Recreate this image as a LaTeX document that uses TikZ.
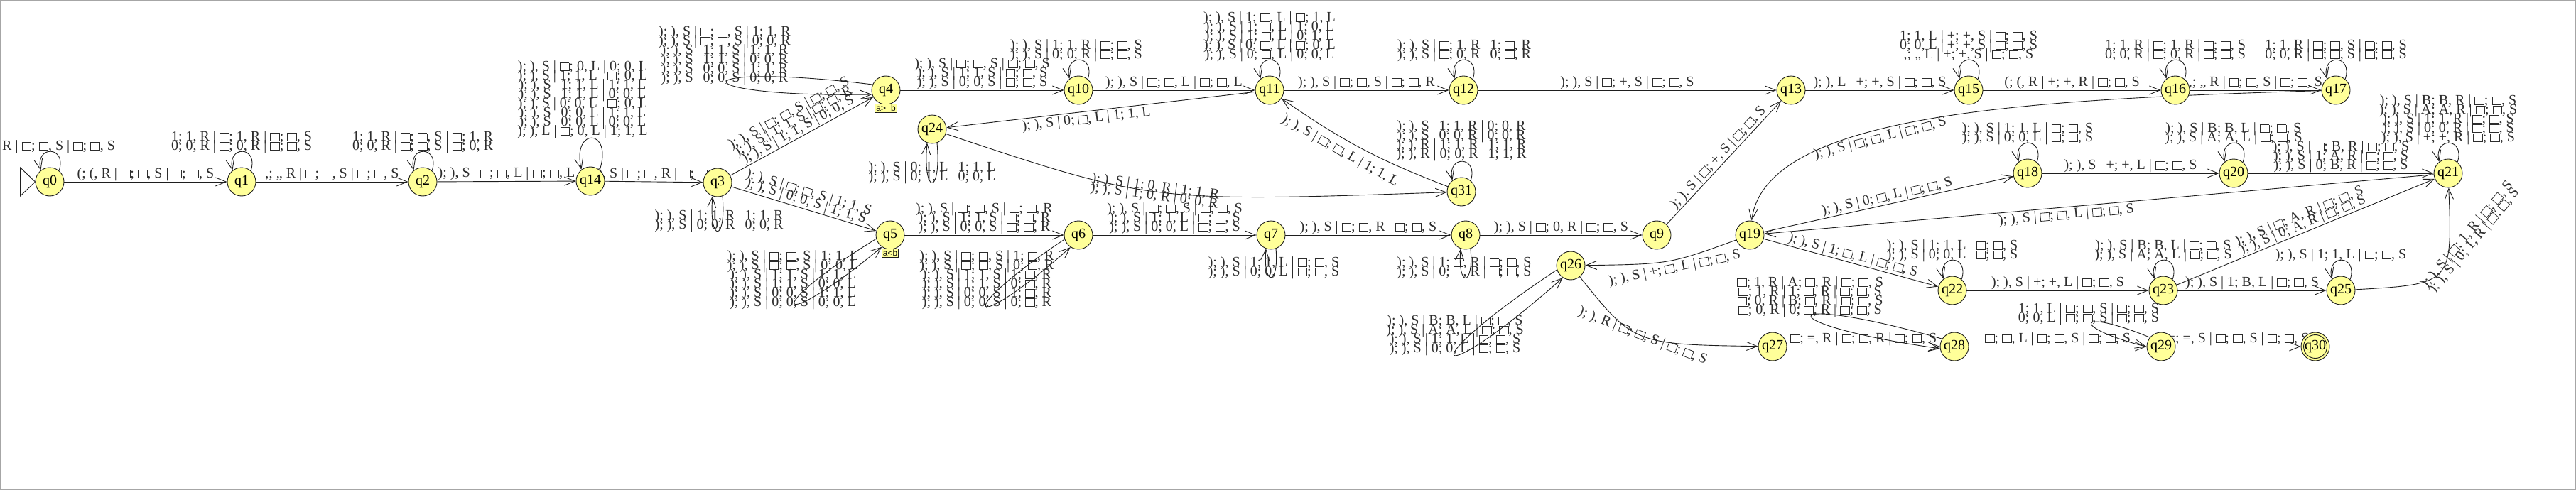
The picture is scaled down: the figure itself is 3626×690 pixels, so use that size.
\documentclass[tikz,border=0pt]{standalone}
\usepackage{fontspec}
\setmainfont{Liberation Serif}
\newfontfamily\tagfont{Liberation Sans}
\usetikzlibrary{arrows.meta}
\pgfdeclarelayer{bg}
\pgfsetlayers{bg,main}
\definecolor{stfill}{RGB}{255,255,153}
\definecolor{labc}{RGB}{45,45,45}
\definecolor{edc}{RGB}{30,30,30}
\newcommand\B{{\setlength{\fboxsep}{0pt}\setlength{\fboxrule}{0.8pt}\fbox{\rule{0pt}{10.4pt}\hspace{11.9pt}}}}
\newcommand\labfont{\fontsize{20}{13}\selectfont\lineskiplimit=-100pt\lineskip=0pt}
\newcommand\toploop[2][37]{\draw[ed] (#2.50) .. controls +(72:#1) and +(103:#1) .. (#2.128);}
\newcommand\dirloop[6]{\draw[ed] (#1.#2) .. controls +(#3:#5) and +(#4:#5) .. (#1.#6);}
\tikzset{
  st/.style={circle, draw=edc, line width=0.9pt, fill=stfill, minimum size=40pt, inner sep=0pt, font=\fontsize{20}{20}\selectfont},
  ed/.style={draw=edc, line width=0.9pt, -{Straight Barb[length=15pt,width=12pt,line width=0.9pt]}},
  lab/.style={font=\labfont, text=labc, inner sep=0pt, align=center, execute at end node={\rule[-4pt]{0pt}{4pt}}},
  tagbox/.style={draw=edc, line width=0.8pt, fill=stfill, font=\tagfont\fontsize{12}{12}\selectfont, inner sep=1.5pt},
}
\begin{document}
\begin{tikzpicture}[x=1pt,y=1pt]
\useasboundingbox (0,0) rectangle (3626,-690);
% states
\node[st] (q0) at (70,-256) {q0};
\node[st] (q1) at (340,-256) {q1};
\node[st] (q2) at (595,-256) {q2};
\node[st] (q14) at (831,-255) {q14};
\node[st] (q3) at (1010,-257) {q3};
\node[st] (q4) at (1247,-127) {q4};
\node[st] (q24) at (1312,-182) {q24};
\node[st] (q10) at (1518,-127) {q10};
\node[st] (q11) at (1787,-127) {q11};
\node[st] (q12) at (2060,-127) {q12};
\node[st] (q5) at (1253,-331) {q5};
\node[st] (q6) at (1518,-331) {q6};
\node[st] (q7) at (1789,-331) {q7};
\node[st] (q8) at (2063,-331) {q8};
\node[st] (q9) at (2332,-331) {q9};
\node[st] (q31) at (2057,-270) {q31};
\node[st] (q26) at (2211,-374) {q26};
\node[st] (q13) at (2521,-127) {q13};
\node[st] (q15) at (2771,-127) {q15};
\node[st] (q16) at (3062,-127) {q16};
\node[st] (q17) at (3288,-127) {q17};
\node[st] (q18) at (2854,-244) {q18};
\node[st] (q20) at (3144,-244) {q20};
\node[st] (q21) at (3446,-244) {q21};
\node[st] (q19) at (2463,-331) {q19};
\node[st] (q22) at (2748,-409) {q22};
\node[st] (q23) at (3045,-409) {q23};
\node[st] (q25) at (3295,-409) {q25};
\node[st] (q27) at (2495,-488) {q27};
\node[st] (q28) at (2751,-488) {q28};
\node[st] (q29) at (3042,-488) {q29};
\node[st] (q30) at (3259,-488) {q30};
\draw[edc, line width=0.9pt] (q30.center) circle (16.5pt);
\node[tagbox] (tg4) at (1247,-152) {a>=b};
\node[tagbox] (tg5) at (1253,-356) {a<b};

\begin{pgfonlayer}{bg}
\draw[gray!70, line width=2pt] (0,0) rectangle (3626,-690);
\draw[edc, line width=0.9pt] (q0.west) -- ++(-21,20) -- ++(0,-40) -- cycle;
% ---- row q0 .. q3
\toploop{q0}
\node[lab, anchor=south west] (l0) at (3,-216) {R | \B; \B, S | \B; \B, S};
\draw[ed] (q0) -- node[lab, above=1pt] (e01) {(; (, R | \B; \B, S | \B; \B, S} (q1);
\toploop{q1}
\node[lab, anchor=south] (l1) at (340,-216) {1; 1, R | \B; 1, R | \B; \B, S\\0; 0, R | \B; 0, R | \B; \B, S};
\draw[ed] (q1) -- node[lab, above=1pt] (e12) {,; ,, R | \B; \B, S | \B; \B, S} (q2);
\toploop{q2}
\node[lab, anchor=south] (l2) at (595,-216) {1; 1, R | \B; \B, S | \B; 1, R\\0; 0, R | \B; \B, S | \B; 0, R};
\draw[ed] (q2) -- node[lab, above=1pt] (e214) {); ), S | \B; \B, L | \B; \B, L} (q14);
\toploop[62]{q14}
\node[lab, anchor=south] (l14) at (820,-195) {); ), S | \B; 0, L | 0; 0, L\\); ), S | 1; 1, L | \B; 0, L\\); ), S | 1; 1, L | 1; 1, L\\); ), S | 1; 1, L | 0; 0, L\\); ), S | 0; 0, L | \B; 0, L\\); ), S | 0; 0, L | 1; 1, L\\); ), S | 0; 0, L | 0; 0, L\\); ), L | \B; 0, L | 1; 1, L};
\draw[ed] (q14) -- node[lab, above=1pt] (e143) {); ), S | \B; \B, R | \B; \B, S} (q3);
\dirloop{q3}{-70}{-85}{-95}{66}{-110}
\node[lab, anchor=south] (l3) at (1012,-327) {); ), S | 1; 1, R | 1; 1, R\\); ), S | 0; 0, R | 0; 0, R};
\draw[ed] (q3) -- node[lab, sloped, above=1pt] (e34) {); ), S | \B; \B, S | \B; \B, S\\); ), S | 1; 1, S | \B; \B, R\\); ), S | 1; 1, S | 0; 0, S} (q4);
\draw[ed] (q3) -- node[lab, sloped, above=1pt] (e35) {); ), S | \B; \B, S | 1; 1, S\\); ), S | 0; 0, S | 1; 1, S} (q5);
% ---- q4 group
\dirloop{q4}{157}{173}{181}{275}{197}
\node[lab, anchor=south] (l4) at (1020,-120) {); ), S | \B; \B, S | 1; 1, R\\); ), S | \B; \B, S | 0; 0, R\\); ), S | 1; 1, S | 1; 1, R\\); ), S | 1; 1, S | 0; 0, R\\); ), S | 0; 0, S | 1; 1, R\\); ), S | 0; 0, S | 0; 0, R};
\draw[ed] (q4) -- node[lab, above=1pt] (e410) {); ), S | \B; \B, S | \B; \B, S\\); ), S | 1; 1, S | \B; \B, S\\); ), S | 0; 0, S | \B; \B, S} (q10);
\toploop{q10}
\node[lab, anchor=south] (l10) at (1515,-87) {); ), S | 1; 1, R | \B; \B, S\\); ), S | 0; 0, R | \B; \B, S};
\draw[ed] (q10) -- node[lab, above=1pt] (e1011) {); ), S | \B; \B, L | \B; \B, L} (q11);
\toploop{q11}
\node[lab, anchor=south] (l11) at (1787,-87) {); ), S | 1; \B, L | \B; 1, L\\); ), S | 1; \B, L | 1; 0, L\\); ), S | 1; \B, L | 0; 1, L\\); ), S | 0; \B, L | \B; 0, L\\); ), S | 0; \B, L | 0; 0, L};
\draw[ed] (q11) -- node[lab, above=1pt] (e1112) {); ), S | \B; \B, S | \B; \B, R} (q12);
\toploop{q12}
\node[lab, anchor=south] (l12) at (2061,-87) {); ), S | \B; 1, R | 1; \B, R\\); ), S | \B; 0, R | 0; \B, R};
\draw[ed] (q12) -- node[lab, above=1pt] (e1213) {); ), S | \B; +, S | \B; \B, S} (q13);
\draw[ed] (q11) -- node[lab, sloped, below=2pt, pos=0.55] (e1124) {); ), S | 0; \B, L | 1; 1, L} (q24);
\dirloop{q24}{-70}{-85}{-95}{75}{-110}
\node[lab, anchor=south] (l24) at (1312,-259) {); ), S | 0; 1, L | 1; 1, L\\); ), S | 0; 1, L | 0; 0, L};
\draw[ed] (q24) .. controls (1620,-285) .. node[lab, sloped, anchor=center, pos=0.48] (e2431) {); ), S | 1; 0, R | 1; 1, R\\); ), S | 1; 0, R | 0; 0, R} (q31);
\toploop{q31}
\node[lab, anchor=south] (l31) at (2057,-227) {); ), S | 1; 1, R | 0; 0, R\\); ), S | 0; 0, R | 0; 0, R\\); ), R | 1; 1, R | 1; 1, R\\); ), R | 0; 0, R | 1; 1, R};
\draw[ed] (q31) to[bend left=7] node[lab, sloped, below=8pt, pos=0.6] (e3111) {); ), S | \B; \B, L | 1; 1, L} (q11);
% ---- q5 .. q9
\dirloop{q5}{195.7}{211.7}{219.7}{196}{235.7}
\node[lab, anchor=south] (l5) at (1116,-436) {); ), S | \B; \B, S | 1; 1, L\\); ), S | \B; \B, S | 0; 0, L\\); ), S | 1; 1, S | 1; 1, L\\); ), S | 1; 1, S | 0; 0, L\\); ), S | 0; 0, S | 1; 1, L\\); ), S | 0; 0, S | 0; 0, L};
\draw[ed] (q5) -- node[lab, above=1pt] (e56) {); ), S | \B; \B, S | \B; \B, R\\); ), S | 1; 1, S | \B; \B, R\\); ), S | 0; 0, S | \B; \B, R} (q6);
\dirloop{q6}{197.6}{213.6}{221.6}{194}{237.6}
\node[lab, anchor=south] (l6) at (1389,-436) {); ), S | \B; \B, S | 1; \B, R\\); ), S | \B; \B, S | 0; \B, R\\); ), S | 1; 1, S | 1; \B, R\\); ), S | 1; 1, S | 0; \B, R\\); ), S | 0; 0, S | 1; \B, R\\); ), S | 0; 0, S | 0; \B, R};
\draw[ed] (q6) -- node[lab, above=1pt] (e67) {); ), S | \B; \B, S | \B; \B, S\\); ), S | 1; 1, L | \B; \B, S\\); ), S | 0; 0, L | \B; \B, S} (q7);
\dirloop{q7}{-70}{-85}{-95}{54}{-110}
\node[lab, anchor=south] (l7) at (1793,-393) {); ), S | 1; 1, L | \B; \B, S\\); ), S | 0; 0, L | \B; \B, S};
\draw[ed] (q7) -- node[lab, above=1pt] (e78) {); ), S | \B; \B, R | \B; \B, S} (q8);
\dirloop{q8}{-70}{-85}{-95}{55}{-110}
\node[lab, anchor=south] (l8) at (2061,-393) {); ), S | 1; \B, R | \B; \B, S\\); ), S | 0; \B, R | \B; \B, S};
\draw[ed] (q8) -- node[lab, above=1pt] (e89) {); ), S | \B; 0, R | \B; \B, S} (q9);
\draw[ed] (q9) -- node[lab, sloped, above=1pt] (e913) {); ), S | \B; +, S | \B; \B, S} (q13);
% ---- q26 / q27 row
\draw[ed] (q19) .. controls (2350,-372) .. node[lab, sloped, below=2pt, pos=0.45] (e1926) {); ), S | +; \B, L | \B; \B, S} (q26);
\dirloop{q26}{197.5}{213.5}{221.5}{251}{237.5}
\node[lab, anchor=south] (l26) at (2048,-501) {); ), S | B; B, L | \B; \B, S\\); ), S | A; A, L | \B; \B, S\\); ), S | 1; 1, L | \B; \B, S\\); ), S | 0; 0, L | \B; \B, S};
\draw[ed] (q26) .. controls (2300,-485) .. node[lab, sloped, anchor=center, pos=0.5] (e2627) {); ), R | \B; \B, S | \B; \B, S} (q27);
\draw[ed] (q27) -- node[lab, above=1pt] (e2728) {\B; =, R | \B; \B, R | \B; \B, S} (q28);
\dirloop{q28}{148}{164}{172}{250}{188}
\node[lab, anchor=south] (l28) at (2548,-447) {\B; 1, R | A; \B, R | \B; \B, S\\\B; 1, R | 1; \B, R | \B; \B, S\\\B; 0, R | B; \B, R | \B; \B, S\\\B; 0, R | 0; \B, R | \B; \B, S};
\draw[ed] (q28) -- node[lab, above=1pt] (e2829) {\B; \B, L | \B; \B, S | \B; \B, S} (q29);
\dirloop{q29}{141.6}{157.6}{165.6}{113}{181.6}
\node[lab, anchor=south] (l29) at (2940,-458) {1; 1, L | \B; \B, S | \B; \B, S\\0; 0, L | \B; \B, S | \B; \B, S};
\draw[ed] (q29) -- node[lab, above=1pt] (e2930) {=; =, S | \B; \B, S | \B; \B, S} (q30);
% ---- top right
\draw[ed] (q13) -- node[lab, above=1pt] (e1315) {); ), L | +; +, S | \B; \B, S} (q15);
\toploop{q15}
\node[lab, anchor=south] (l15) at (2771,-87) {1; 1, L | +; +, S | \B; \B, S\\0; 0, L | +; +, S | \B; \B, S\\,; ,, L | +; +, S | \B; \B, S};
\draw[ed] (q15) -- node[lab, above=1pt] (e1516) {(; (, R | +; +, R | \B; \B, S} (q16);
\toploop{q16}
\node[lab, anchor=south] (l16) at (3062,-87) {1; 1, R | \B; 1, R | \B; \B, S\\0; 0, R | \B; 0, R | \B; \B, S};
\draw[ed] (q16) -- node[lab, above=1pt] (e1617) {,; ,, R | \B; \B, S | \B; \B, S} (q17);
\toploop{q17}
\node[lab, anchor=south] (l17) at (3288,-87) {1; 1, R | \B; \B, S | \B; \B, S\\0; 0, R | \B; \B, S | \B; \B, S};
\draw[ed] (q17) .. controls (2850,-140) and (2485,-160) .. node[lab, sloped, below=3pt, pos=0.59] (e1719) {); ), S | \B; \B, L | \B; \B, S} (q19);
% ---- middle right
\draw[ed] (q19) -- node[lab, sloped, above=1pt] (e1918) {); ), S | 0; \B, L | \B; \B, S} (q18);
\toploop{q18}
\node[lab, anchor=south] (l18) at (2854,-204) {); ), S | 1; 1, L | \B; \B, S\\); ), S | 0; 0, L | \B; \B, S};
\draw[ed] (q18) -- node[lab, above=1pt] (e1820) {); ), S | +; +, L | \B; \B, S} (q20);
\toploop{q20}
\node[lab, anchor=south] (l20) at (3144,-204) {); ), S | B; B, L | \B; \B, S\\); ), S | A; A, L | \B; \B, S};
\draw[ed] (q20) -- node[lab, above=1pt] (e2021) {); ), S | \B; B, R | \B; \B, S\\); ), S | 1; A, R | \B; \B, S\\); ), S | 0; B, R | \B; \B, S} (q21);
\toploop{q21}
\node[lab, anchor=south] (l21) at (3446,-204) {); ), S | B; B, R | \B; \B, S\\); ), S | A; A, R | \B; \B, S\\); ), S | 1; 1, R | \B; \B, S\\); ), S | 0; 0, R | \B; \B, S\\); ), S | +; +, R | \B; \B, S};
\draw[ed] (q21) -- node[lab, sloped, below=2pt, pos=0.55] (e2119) {); ), S | \B; \B, L | \B; \B, S} (q19);
\draw[ed] (q19) -- node[lab, sloped, above=1pt] (e1922) {); ), S | 1; \B, L | \B; \B, S} (q22);
\toploop{q22}
\node[lab, anchor=south] (l22) at (2748,-369) {); ), S | 1; 1, L | \B; \B, S\\); ), S | 0; 0, L | \B; \B, S};
\draw[ed] (q22) -- node[lab, above=1pt] (e2223) {); ), S | +; +, L | \B; \B, S} (q23);
\toploop{q23}
\node[lab, anchor=south] (l23) at (3045,-369) {); ), S | B; B, L | \B; \B, S\\); ), S | A; A, L | \B; \B, S};
\draw[ed] (q23) -- node[lab, above=1pt] (e2325) {); ), S | 1; B, L | \B; \B, S} (q25);
\draw[ed] (q23) -- node[lab, sloped, above=1pt] (e2321) {); ), S | \B; A, R | \B; \B, S\\); ), S | 0; A, R | \B; \B, S} (q21);
\toploop{q25}
\node[lab, anchor=south] (l25) at (3295,-369) {); ), S | 1; 1, L | \B; \B, S};
\draw[ed] (q25) .. controls (3452,-400) .. (q21);
\node[lab, rotate=50] (e2521) at (3478,-335) {); ), S | \B; 1, R | \B; \B, S\\); ), S | 0; 1, R | \B; \B, S};
\end{pgfonlayer}
\end{tikzpicture}
\end{document}
